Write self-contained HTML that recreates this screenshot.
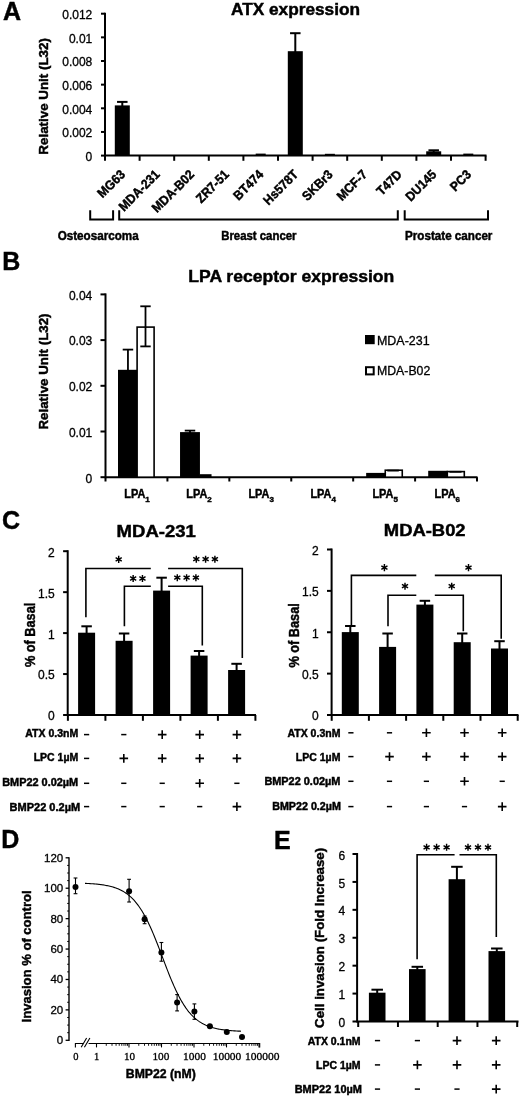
<!DOCTYPE html>
<html><head><meta charset="utf-8"><style>
html,body{margin:0;padding:0;background:#fff;}
svg{display:block;will-change:transform;}
text{font-family:"Liberation Sans",sans-serif;fill:#000;stroke:#000;stroke-width:0.3px;} text[font-weight=bold]{stroke-width:0.45px;}
</style></head><body>
<svg width="520" height="1097" viewBox="0 0 520 1097" stroke="#000" stroke-linecap="butt">
<rect x="0" y="0" width="520" height="1097" fill="#fff" stroke="none"/>
<g stroke="none">
</g>
<text x="2.90" y="19.50" font-size="25" font-weight="bold">A</text>
<text x="231.00" y="15.40" font-size="16.5" font-weight="bold" textLength="129.00" lengthAdjust="spacingAndGlyphs">ATX expression</text>
<text transform="translate(48.30,96.40) rotate(-90)" x="0" y="0" font-size="13" font-weight="bold" text-anchor="middle" textLength="116.50" lengthAdjust="spacingAndGlyphs">Relative Unit (L32)</text>
<line x1="105.00" y1="12.70" x2="105.00" y2="156.60" stroke-width="2"/>
<line x1="101.00" y1="13.70" x2="105.00" y2="13.70" stroke-width="2"/>
<text x="92.30" y="19.10" font-size="12" text-anchor="end">0.012</text>
<line x1="101.00" y1="37.35" x2="105.00" y2="37.35" stroke-width="2"/>
<text x="92.30" y="42.75" font-size="12" text-anchor="end">0.01</text>
<line x1="101.00" y1="61.00" x2="105.00" y2="61.00" stroke-width="2"/>
<text x="92.30" y="66.40" font-size="12" text-anchor="end">0.008</text>
<line x1="101.00" y1="84.65" x2="105.00" y2="84.65" stroke-width="2"/>
<text x="92.30" y="90.05" font-size="12" text-anchor="end">0.006</text>
<line x1="101.00" y1="108.30" x2="105.00" y2="108.30" stroke-width="2"/>
<text x="92.30" y="113.70" font-size="12" text-anchor="end">0.004</text>
<line x1="101.00" y1="131.95" x2="105.00" y2="131.95" stroke-width="2"/>
<text x="92.30" y="137.35" font-size="12" text-anchor="end">0.002</text>
<line x1="101.00" y1="155.60" x2="105.00" y2="155.60" stroke-width="2"/>
<text x="92.30" y="161.00" font-size="12" text-anchor="end">0</text>
<line x1="105.00" y1="155.60" x2="486.50" y2="155.60" stroke-width="2"/>
<line x1="105.00" y1="155.60" x2="105.00" y2="160.80" stroke-width="2"/>
<line x1="139.60" y1="155.60" x2="139.60" y2="160.80" stroke-width="2"/>
<line x1="174.20" y1="155.60" x2="174.20" y2="160.80" stroke-width="2"/>
<line x1="208.80" y1="155.60" x2="208.80" y2="160.80" stroke-width="2"/>
<line x1="243.40" y1="155.60" x2="243.40" y2="160.80" stroke-width="2"/>
<line x1="278.00" y1="155.60" x2="278.00" y2="160.80" stroke-width="2"/>
<line x1="312.60" y1="155.60" x2="312.60" y2="160.80" stroke-width="2"/>
<line x1="347.20" y1="155.60" x2="347.20" y2="160.80" stroke-width="2"/>
<line x1="381.80" y1="155.60" x2="381.80" y2="160.80" stroke-width="2"/>
<line x1="416.40" y1="155.60" x2="416.40" y2="160.80" stroke-width="2"/>
<line x1="451.00" y1="155.60" x2="451.00" y2="160.80" stroke-width="2"/>
<line x1="485.60" y1="155.60" x2="485.60" y2="160.80" stroke-width="2"/>
<text transform="translate(125.90,175.30) rotate(-45)" x="0" y="0" font-size="13" font-weight="bold" text-anchor="end" textLength="32.95" lengthAdjust="spacingAndGlyphs">MG63</text>
<text transform="translate(160.50,175.30) rotate(-45)" x="0" y="0" font-size="13" font-weight="bold" text-anchor="end" textLength="51.78" lengthAdjust="spacingAndGlyphs">MDA-231</text>
<text transform="translate(195.10,175.30) rotate(-45)" x="0" y="0" font-size="13" font-weight="bold" text-anchor="end" textLength="53.78" lengthAdjust="spacingAndGlyphs">MDA-B02</text>
<text transform="translate(229.70,175.30) rotate(-45)" x="0" y="0" font-size="13" font-weight="bold" text-anchor="end" textLength="40.35" lengthAdjust="spacingAndGlyphs">ZR7-51</text>
<text transform="translate(264.30,175.30) rotate(-45)" x="0" y="0" font-size="13" font-weight="bold" text-anchor="end" textLength="36.32" lengthAdjust="spacingAndGlyphs">BT474</text>
<text transform="translate(298.90,175.30) rotate(-45)" x="0" y="0" font-size="13" font-weight="bold" text-anchor="end" textLength="43.05" lengthAdjust="spacingAndGlyphs">Hs578T</text>
<text transform="translate(333.50,175.30) rotate(-45)" x="0" y="0" font-size="13" font-weight="bold" text-anchor="end" textLength="36.99" lengthAdjust="spacingAndGlyphs">SKBr3</text>
<text transform="translate(368.10,175.30) rotate(-45)" x="0" y="0" font-size="13" font-weight="bold" text-anchor="end" textLength="36.97" lengthAdjust="spacingAndGlyphs">MCF-7</text>
<text transform="translate(402.70,175.30) rotate(-45)" x="0" y="0" font-size="13" font-weight="bold" text-anchor="end" textLength="29.59" lengthAdjust="spacingAndGlyphs">T47D</text>
<text transform="translate(437.30,175.30) rotate(-45)" x="0" y="0" font-size="13" font-weight="bold" text-anchor="end" textLength="37.67" lengthAdjust="spacingAndGlyphs">DU145</text>
<text transform="translate(471.90,175.30) rotate(-45)" x="0" y="0" font-size="13" font-weight="bold" text-anchor="end" textLength="23.54" lengthAdjust="spacingAndGlyphs">PC3</text>
<rect x="114.80" y="105.40" width="15.00" height="50.20" fill="#000" stroke="none"/>
<line x1="122.30" y1="101.90" x2="122.30" y2="106.40" stroke-width="2"/>
<line x1="117.05" y1="101.90" x2="127.55" y2="101.90" stroke-width="2"/>
<rect x="255.70" y="153.60" width="10.00" height="2.00" fill="#000" stroke="none"/>
<rect x="287.80" y="51.20" width="15.00" height="104.40" fill="#000" stroke="none"/>
<line x1="295.30" y1="33.20" x2="295.30" y2="52.20" stroke-width="2"/>
<line x1="290.05" y1="33.20" x2="300.55" y2="33.20" stroke-width="2"/>
<rect x="324.90" y="153.80" width="10.00" height="1.80" fill="#000" stroke="none"/>
<rect x="426.20" y="151.30" width="15.00" height="4.30" fill="#000" stroke="none"/>
<line x1="433.70" y1="150.30" x2="433.70" y2="152.30" stroke-width="2"/>
<line x1="428.45" y1="150.30" x2="438.95" y2="150.30" stroke-width="2"/>
<rect x="463.30" y="153.60" width="10.00" height="2.00" fill="#000" stroke="none"/>
<path d="M90.2,210.2V219.4H113.1V210.2" stroke-width="2" fill="none"/>
<path d="M119.2,210.2V219.4H397.8V210.2" stroke-width="2" fill="none"/>
<path d="M404.7,210.2V219.4H488V210.2" stroke-width="2" fill="none"/>
<text x="57.70" y="240.30" font-size="12" font-weight="bold" textLength="81.00" lengthAdjust="spacingAndGlyphs">Osteosarcoma</text>
<text x="221.20" y="240.30" font-size="12" font-weight="bold" textLength="75.30" lengthAdjust="spacingAndGlyphs">Breast cancer</text>
<text x="405.00" y="239.60" font-size="12" font-weight="bold" textLength="87.40" lengthAdjust="spacingAndGlyphs">Prostate cancer</text>
<text x="2.30" y="270.10" font-size="25" font-weight="bold">B</text>
<text x="188.30" y="282.10" font-size="16.5" font-weight="bold" textLength="206.00" lengthAdjust="spacingAndGlyphs">LPA receptor expression</text>
<text transform="translate(48.30,371.50) rotate(-90)" x="0" y="0" font-size="13" font-weight="bold" text-anchor="middle" textLength="116.00" lengthAdjust="spacingAndGlyphs">Relative Unit (L32)</text>
<line x1="105.50" y1="293.40" x2="105.50" y2="478.20" stroke-width="2"/>
<line x1="100.50" y1="294.40" x2="105.50" y2="294.40" stroke-width="2"/>
<text x="92.30" y="299.70" font-size="12" text-anchor="end">0.04</text>
<line x1="100.50" y1="340.10" x2="105.50" y2="340.10" stroke-width="2"/>
<text x="92.30" y="345.40" font-size="12" text-anchor="end">0.03</text>
<line x1="100.50" y1="385.80" x2="105.50" y2="385.80" stroke-width="2"/>
<text x="92.30" y="391.10" font-size="12" text-anchor="end">0.02</text>
<line x1="100.50" y1="431.50" x2="105.50" y2="431.50" stroke-width="2"/>
<text x="92.30" y="436.80" font-size="12" text-anchor="end">0.01</text>
<line x1="100.50" y1="477.20" x2="105.50" y2="477.20" stroke-width="2"/>
<text x="92.30" y="482.50" font-size="12" text-anchor="end">0</text>
<line x1="105.50" y1="477.20" x2="477.50" y2="477.20" stroke-width="2"/>
<line x1="105.50" y1="477.20" x2="105.50" y2="481.50" stroke-width="2"/>
<line x1="167.42" y1="477.20" x2="167.42" y2="481.50" stroke-width="2"/>
<line x1="229.34" y1="477.20" x2="229.34" y2="481.50" stroke-width="2"/>
<line x1="291.26" y1="477.20" x2="291.26" y2="481.50" stroke-width="2"/>
<line x1="353.18" y1="477.20" x2="353.18" y2="481.50" stroke-width="2"/>
<line x1="415.10" y1="477.20" x2="415.10" y2="481.50" stroke-width="2"/>
<line x1="477.02" y1="477.20" x2="477.02" y2="481.50" stroke-width="2"/>
<rect x="118.00" y="369.80" width="19.90" height="107.40" fill="#000" stroke="none"/>
<rect x="137.10" y="327.10" width="17.00" height="150.10" fill="#fff" stroke="#000" stroke-width="1.6"/>
<line x1="127.95" y1="349.60" x2="127.95" y2="370.80" stroke-width="1.8"/>
<line x1="122.70" y1="349.60" x2="133.20" y2="349.60" stroke-width="1.8"/>
<line x1="145.50" y1="306.30" x2="145.50" y2="346.40" stroke-width="1.8"/>
<line x1="140.30" y1="306.30" x2="150.70" y2="306.30" stroke-width="1.8"/>
<line x1="140.30" y1="346.40" x2="150.70" y2="346.40" stroke-width="1.8"/>
<rect x="180.04" y="432.10" width="19.90" height="45.10" fill="#000" stroke="none"/>
<line x1="189.99" y1="430.60" x2="189.99" y2="433.10" stroke-width="1.8"/>
<line x1="184.74" y1="430.60" x2="195.24" y2="430.60" stroke-width="1.8"/>
<rect x="199.54" y="474.20" width="12.00" height="3.00" fill="#000" stroke="none"/>
<rect x="366.16" y="472.90" width="19.90" height="4.30" fill="#000" stroke="none"/>
<rect x="385.26" y="470.20" width="17.00" height="7.00" fill="#fff" stroke="#000" stroke-width="1.6"/>
<line x1="387.30" y1="470.60" x2="398.80" y2="470.60" stroke-width="1.8"/>
<rect x="428.20" y="470.80" width="19.90" height="6.40" fill="#000" stroke="none"/>
<rect x="447.30" y="471.60" width="17.00" height="5.60" fill="#fff" stroke="#000" stroke-width="1.6"/>
<line x1="449.50" y1="471.80" x2="461.50" y2="471.80" stroke-width="1.8"/>
<text x="124.30" y="498.30" font-size="12" font-weight="bold" textLength="21.00" lengthAdjust="spacingAndGlyphs">LPA</text>
<text x="145.30" y="501.80" font-size="8" font-weight="bold">1</text>
<text x="186.34" y="498.30" font-size="12" font-weight="bold" textLength="21.00" lengthAdjust="spacingAndGlyphs">LPA</text>
<text x="207.34" y="501.80" font-size="8" font-weight="bold">2</text>
<text x="248.38" y="498.30" font-size="12" font-weight="bold" textLength="21.00" lengthAdjust="spacingAndGlyphs">LPA</text>
<text x="269.38" y="501.80" font-size="8" font-weight="bold">3</text>
<text x="310.42" y="498.30" font-size="12" font-weight="bold" textLength="21.00" lengthAdjust="spacingAndGlyphs">LPA</text>
<text x="331.42" y="501.80" font-size="8" font-weight="bold">4</text>
<text x="372.46" y="498.30" font-size="12" font-weight="bold" textLength="21.00" lengthAdjust="spacingAndGlyphs">LPA</text>
<text x="393.46" y="501.80" font-size="8" font-weight="bold">5</text>
<text x="434.50" y="498.30" font-size="12" font-weight="bold" textLength="21.00" lengthAdjust="spacingAndGlyphs">LPA</text>
<text x="455.50" y="501.80" font-size="8" font-weight="bold">6</text>
<rect x="365.00" y="335.00" width="9.70" height="9.20" fill="#000" stroke="none"/>
<text x="377.00" y="344.90" font-size="12" textLength="52.60" lengthAdjust="spacingAndGlyphs">MDA-231</text>
<rect x="366.00" y="367.20" width="7.70" height="7.20" fill="#fff" stroke="#000" stroke-width="2"/>
<text x="377.00" y="374.90" font-size="12" textLength="53.30" lengthAdjust="spacingAndGlyphs">MDA-B02</text>
<text x="2.00" y="529.40" font-size="25" font-weight="bold">C</text>
<line x1="67.70" y1="550.20" x2="67.70" y2="716.00" stroke-width="2"/>
<line x1="63.10" y1="551.20" x2="67.70" y2="551.20" stroke-width="2"/>
<text x="54.80" y="556.60" font-size="12" text-anchor="end">2</text>
<line x1="63.10" y1="592.15" x2="67.70" y2="592.15" stroke-width="2"/>
<text x="54.80" y="597.55" font-size="12" text-anchor="end">1.5</text>
<line x1="63.10" y1="633.10" x2="67.70" y2="633.10" stroke-width="2"/>
<text x="54.80" y="638.50" font-size="12" text-anchor="end">1</text>
<line x1="63.10" y1="674.05" x2="67.70" y2="674.05" stroke-width="2"/>
<text x="54.80" y="679.45" font-size="12" text-anchor="end">0.5</text>
<line x1="63.10" y1="715.00" x2="67.70" y2="715.00" stroke-width="2"/>
<text x="54.80" y="720.40" font-size="12" text-anchor="end">0</text>
<line x1="67.70" y1="715.00" x2="256.00" y2="715.00" stroke-width="2"/>
<line x1="67.90" y1="715.00" x2="67.90" y2="720.80" stroke-width="2"/>
<line x1="105.40" y1="715.00" x2="105.40" y2="720.80" stroke-width="2"/>
<line x1="142.90" y1="715.00" x2="142.90" y2="720.80" stroke-width="2"/>
<line x1="180.40" y1="715.00" x2="180.40" y2="720.80" stroke-width="2"/>
<line x1="217.90" y1="715.00" x2="217.90" y2="720.80" stroke-width="2"/>
<line x1="255.40" y1="715.00" x2="255.40" y2="720.80" stroke-width="2"/>
<rect x="78.10" y="632.70" width="17.00" height="82.30" fill="#000" stroke="none"/>
<line x1="86.60" y1="626.30" x2="86.60" y2="633.70" stroke-width="2"/>
<line x1="81.35" y1="626.30" x2="91.85" y2="626.30" stroke-width="2"/>
<rect x="115.60" y="640.80" width="17.00" height="74.20" fill="#000" stroke="none"/>
<line x1="124.10" y1="633.50" x2="124.10" y2="641.80" stroke-width="2"/>
<line x1="118.85" y1="633.50" x2="129.35" y2="633.50" stroke-width="2"/>
<rect x="153.10" y="590.60" width="17.00" height="124.40" fill="#000" stroke="none"/>
<line x1="161.60" y1="577.70" x2="161.60" y2="591.60" stroke-width="2"/>
<line x1="156.35" y1="577.70" x2="166.85" y2="577.70" stroke-width="2"/>
<rect x="190.60" y="655.60" width="17.00" height="59.40" fill="#000" stroke="none"/>
<line x1="199.10" y1="651.00" x2="199.10" y2="656.60" stroke-width="2"/>
<line x1="193.85" y1="651.00" x2="204.35" y2="651.00" stroke-width="2"/>
<rect x="228.10" y="670.00" width="17.00" height="45.00" fill="#000" stroke="none"/>
<line x1="236.60" y1="663.80" x2="236.60" y2="671.00" stroke-width="2"/>
<line x1="231.35" y1="663.80" x2="241.85" y2="663.80" stroke-width="2"/>
<text x="116.60" y="537.40" font-size="17" font-weight="bold" textLength="79.20" lengthAdjust="spacingAndGlyphs">MDA-231</text>
<text transform="translate(35.10,634.90) rotate(-90)" x="0" y="0" font-size="14" font-weight="bold" text-anchor="middle" textLength="64.40" lengthAdjust="spacingAndGlyphs">% of Basal</text>
<line x1="331.60" y1="548.50" x2="331.60" y2="716.00" stroke-width="2"/>
<line x1="327.00" y1="549.50" x2="331.60" y2="549.50" stroke-width="2"/>
<text x="318.80" y="554.90" font-size="12" text-anchor="end">2</text>
<line x1="327.00" y1="590.88" x2="331.60" y2="590.88" stroke-width="2"/>
<text x="318.80" y="596.27" font-size="12" text-anchor="end">1.5</text>
<line x1="327.00" y1="632.25" x2="331.60" y2="632.25" stroke-width="2"/>
<text x="318.80" y="637.65" font-size="12" text-anchor="end">1</text>
<line x1="327.00" y1="673.62" x2="331.60" y2="673.62" stroke-width="2"/>
<text x="318.80" y="679.02" font-size="12" text-anchor="end">0.5</text>
<line x1="327.00" y1="715.00" x2="331.60" y2="715.00" stroke-width="2"/>
<text x="318.80" y="720.40" font-size="12" text-anchor="end">0</text>
<line x1="331.60" y1="715.00" x2="518.50" y2="715.00" stroke-width="2"/>
<line x1="331.70" y1="715.00" x2="331.70" y2="720.80" stroke-width="2"/>
<line x1="368.90" y1="715.00" x2="368.90" y2="720.80" stroke-width="2"/>
<line x1="406.10" y1="715.00" x2="406.10" y2="720.80" stroke-width="2"/>
<line x1="443.30" y1="715.00" x2="443.30" y2="720.80" stroke-width="2"/>
<line x1="480.50" y1="715.00" x2="480.50" y2="720.80" stroke-width="2"/>
<line x1="517.70" y1="715.00" x2="517.70" y2="720.80" stroke-width="2"/>
<rect x="341.80" y="632.10" width="17.00" height="82.90" fill="#000" stroke="none"/>
<line x1="350.30" y1="626.00" x2="350.30" y2="633.10" stroke-width="2"/>
<line x1="345.05" y1="626.00" x2="355.55" y2="626.00" stroke-width="2"/>
<rect x="379.10" y="646.90" width="17.00" height="68.10" fill="#000" stroke="none"/>
<line x1="387.60" y1="633.50" x2="387.60" y2="647.90" stroke-width="2"/>
<line x1="382.35" y1="633.50" x2="392.85" y2="633.50" stroke-width="2"/>
<rect x="416.40" y="604.60" width="17.00" height="110.40" fill="#000" stroke="none"/>
<line x1="424.90" y1="600.80" x2="424.90" y2="605.60" stroke-width="2"/>
<line x1="419.65" y1="600.80" x2="430.15" y2="600.80" stroke-width="2"/>
<rect x="453.70" y="642.20" width="17.00" height="72.80" fill="#000" stroke="none"/>
<line x1="462.20" y1="633.50" x2="462.20" y2="643.20" stroke-width="2"/>
<line x1="456.95" y1="633.50" x2="467.45" y2="633.50" stroke-width="2"/>
<rect x="491.00" y="648.50" width="17.00" height="66.50" fill="#000" stroke="none"/>
<line x1="499.50" y1="641.20" x2="499.50" y2="649.50" stroke-width="2"/>
<line x1="494.25" y1="641.20" x2="504.75" y2="641.20" stroke-width="2"/>
<text x="383.80" y="536.40" font-size="17" font-weight="bold" textLength="81.80" lengthAdjust="spacingAndGlyphs">MDA-B02</text>
<text transform="translate(298.90,635.40) rotate(-90)" x="0" y="0" font-size="14" font-weight="bold" text-anchor="middle" textLength="64.40" lengthAdjust="spacingAndGlyphs">% of Basal</text>
<path d="M85.9,617.3V568.5H150.8" stroke-width="1.6" fill="none"/>
<path d="M124.4,626.3V586.2H150.8" stroke-width="1.6" fill="none"/>
<path d="M168.1,568.5H242.3V658.1" stroke-width="1.6" fill="none"/>
<path d="M168.1,586.2H202.3V645.6" stroke-width="1.6" fill="none"/>
<path d="M118.70,555.85L118.70,562.95M115.63,557.62L121.77,561.17M121.77,557.62L115.63,561.17" stroke-width="1.45" fill="none"/>
<path d="M133.15,574.95L133.15,582.05M130.08,576.73L136.22,580.27M136.22,576.73L130.08,580.27" stroke-width="1.45" fill="none"/>
<path d="M142.45,574.95L142.45,582.05M139.38,576.73L145.52,580.27M145.52,576.73L139.38,580.27" stroke-width="1.45" fill="none"/>
<path d="M196.30,555.65L196.30,562.75M193.23,557.43L199.37,560.98M199.37,557.43L193.23,560.98" stroke-width="1.45" fill="none"/>
<path d="M205.60,555.65L205.60,562.75M202.53,557.43L208.67,560.98M208.67,557.43L202.53,560.98" stroke-width="1.45" fill="none"/>
<path d="M214.90,555.65L214.90,562.75M211.83,557.43L217.97,560.98M217.97,557.43L211.83,560.98" stroke-width="1.45" fill="none"/>
<path d="M177.30,574.15L177.30,581.25M174.23,575.93L180.37,579.48M180.37,575.93L174.23,579.48" stroke-width="1.45" fill="none"/>
<path d="M186.60,574.15L186.60,581.25M183.53,575.93L189.67,579.48M189.67,575.93L183.53,579.48" stroke-width="1.45" fill="none"/>
<path d="M195.90,574.15L195.90,581.25M192.83,575.93L198.97,579.48M198.97,575.93L192.83,579.48" stroke-width="1.45" fill="none"/>
<path d="M351.4,625.4V575.4H416.3" stroke-width="1.6" fill="none"/>
<path d="M388,626.3V595.3H416.3" stroke-width="1.6" fill="none"/>
<path d="M434.8,575.4H501.2V638.8" stroke-width="1.6" fill="none"/>
<path d="M434.8,595.3H463.3V631.2" stroke-width="1.6" fill="none"/>
<path d="M384.40,564.05L384.40,571.15M381.33,565.83L387.47,569.38M387.47,565.83L381.33,569.38" stroke-width="1.45" fill="none"/>
<path d="M405.00,582.65L405.00,589.75M401.93,584.43L408.07,587.98M408.07,584.43L401.93,587.98" stroke-width="1.45" fill="none"/>
<path d="M468.50,564.05L468.50,571.15M465.43,565.83L471.57,569.38M471.57,565.83L465.43,569.38" stroke-width="1.45" fill="none"/>
<path d="M451.70,582.65L451.70,589.75M448.63,584.43L454.77,587.98M454.77,584.43L448.63,587.98" stroke-width="1.45" fill="none"/>
<text x="78.20" y="736.70" font-size="10.5" font-weight="bold" text-anchor="end">ATX 0.3nM</text>
<path d="M84.00,734.60H89.20" stroke-width="1.5" fill="none"/>
<path d="M121.20,734.60H126.40" stroke-width="1.5" fill="none"/>
<path d="M157.90,734.60H166.50M162.20,730.30V738.90" stroke-width="1.6" fill="none"/>
<path d="M195.40,734.60H204.00M199.70,730.30V738.90" stroke-width="1.6" fill="none"/>
<path d="M232.60,734.60H241.20M236.90,730.30V738.90" stroke-width="1.6" fill="none"/>
<text x="78.20" y="761.20" font-size="10.5" font-weight="bold" text-anchor="end">LPC 1µM</text>
<path d="M84.00,758.40H89.20" stroke-width="1.5" fill="none"/>
<path d="M119.50,758.40H128.10M123.80,754.10V762.70" stroke-width="1.6" fill="none"/>
<path d="M157.90,758.40H166.50M162.20,754.10V762.70" stroke-width="1.6" fill="none"/>
<path d="M195.40,758.40H204.00M199.70,754.10V762.70" stroke-width="1.6" fill="none"/>
<path d="M232.60,758.40H241.20M236.90,754.10V762.70" stroke-width="1.6" fill="none"/>
<text x="78.20" y="785.70" font-size="10.5" font-weight="bold" text-anchor="end" textLength="76.00" lengthAdjust="spacingAndGlyphs">BMP22 0.02µM</text>
<path d="M84.00,783.30H89.20" stroke-width="1.5" fill="none"/>
<path d="M121.20,783.30H126.40" stroke-width="1.5" fill="none"/>
<path d="M159.60,783.30H164.80" stroke-width="1.5" fill="none"/>
<path d="M195.40,783.30H204.00M199.70,779.00V787.60" stroke-width="1.6" fill="none"/>
<path d="M234.30,783.30H239.50" stroke-width="1.5" fill="none"/>
<text x="80.20" y="811.20" font-size="10.5" font-weight="bold" text-anchor="end" textLength="70.60" lengthAdjust="spacingAndGlyphs">BMP22 0.2µM</text>
<path d="M84.00,806.60H89.20" stroke-width="1.5" fill="none"/>
<path d="M121.20,806.60H126.40" stroke-width="1.5" fill="none"/>
<path d="M159.60,806.60H164.80" stroke-width="1.5" fill="none"/>
<path d="M197.10,806.60H202.30" stroke-width="1.5" fill="none"/>
<path d="M232.60,806.60H241.20M236.90,802.30V810.90" stroke-width="1.6" fill="none"/>
<text x="340.40" y="736.70" font-size="10.5" font-weight="bold" text-anchor="end">ATX 0.3nM</text>
<path d="M348.30,732.80H353.50" stroke-width="1.5" fill="none"/>
<path d="M386.90,732.80H392.10" stroke-width="1.5" fill="none"/>
<path d="M422.10,732.80H430.70M426.40,728.50V737.10" stroke-width="1.6" fill="none"/>
<path d="M460.20,732.80H468.80M464.50,728.50V737.10" stroke-width="1.6" fill="none"/>
<path d="M497.90,732.80H506.50M502.20,728.50V737.10" stroke-width="1.6" fill="none"/>
<text x="340.40" y="760.60" font-size="10.5" font-weight="bold" text-anchor="end">LPC 1µM</text>
<path d="M348.30,756.60H353.50" stroke-width="1.5" fill="none"/>
<path d="M385.20,756.60H393.80M389.50,752.30V760.90" stroke-width="1.6" fill="none"/>
<path d="M422.10,756.60H430.70M426.40,752.30V760.90" stroke-width="1.6" fill="none"/>
<path d="M460.20,756.60H468.80M464.50,752.30V760.90" stroke-width="1.6" fill="none"/>
<path d="M497.90,756.60H506.50M502.20,752.30V760.90" stroke-width="1.6" fill="none"/>
<text x="340.40" y="785.40" font-size="10.5" font-weight="bold" text-anchor="end" textLength="76.00" lengthAdjust="spacingAndGlyphs">BMP22 0.02µM</text>
<path d="M348.30,781.30H353.50" stroke-width="1.5" fill="none"/>
<path d="M386.90,781.30H392.10" stroke-width="1.5" fill="none"/>
<path d="M423.80,781.30H429.00" stroke-width="1.5" fill="none"/>
<path d="M460.20,781.30H468.80M464.50,777.00V785.60" stroke-width="1.6" fill="none"/>
<path d="M499.60,781.30H504.80" stroke-width="1.5" fill="none"/>
<text x="340.90" y="810.40" font-size="10.5" font-weight="bold" text-anchor="end" textLength="68.70" lengthAdjust="spacingAndGlyphs">BMP22 0.2µM</text>
<path d="M348.30,806.60H353.50" stroke-width="1.5" fill="none"/>
<path d="M386.90,806.60H392.10" stroke-width="1.5" fill="none"/>
<path d="M423.80,806.60H429.00" stroke-width="1.5" fill="none"/>
<path d="M461.90,806.60H467.10" stroke-width="1.5" fill="none"/>
<path d="M497.90,806.60H506.50M502.20,802.30V810.90" stroke-width="1.6" fill="none"/>
<text x="1.20" y="848.20" font-size="25" font-weight="bold">D</text>
<text transform="translate(30.80,956.40) rotate(-90)" x="0" y="0" font-size="13.5" font-weight="bold" text-anchor="middle" textLength="132.00" lengthAdjust="spacingAndGlyphs">Invasion % of control</text>
<line x1="69.00" y1="857.20" x2="69.00" y2="1040.90" stroke-width="1.4"/>
<line x1="65.60" y1="1040.30" x2="69.00" y2="1040.30" stroke-width="1.3"/>
<text x="63.20" y="1044.30" font-size="11.5" text-anchor="end">0</text>
<line x1="67.20" y1="1032.70" x2="69.00" y2="1032.70" stroke-width="1.0"/>
<line x1="67.20" y1="1025.09" x2="69.00" y2="1025.09" stroke-width="1.0"/>
<line x1="67.20" y1="1017.49" x2="69.00" y2="1017.49" stroke-width="1.0"/>
<line x1="65.60" y1="1009.88" x2="69.00" y2="1009.88" stroke-width="1.3"/>
<text x="63.20" y="1013.88" font-size="11.5" text-anchor="end">20</text>
<line x1="67.20" y1="1002.28" x2="69.00" y2="1002.28" stroke-width="1.0"/>
<line x1="67.20" y1="994.67" x2="69.00" y2="994.67" stroke-width="1.0"/>
<line x1="67.20" y1="987.07" x2="69.00" y2="987.07" stroke-width="1.0"/>
<line x1="65.60" y1="979.47" x2="69.00" y2="979.47" stroke-width="1.3"/>
<text x="63.20" y="983.47" font-size="11.5" text-anchor="end">40</text>
<line x1="67.20" y1="971.86" x2="69.00" y2="971.86" stroke-width="1.0"/>
<line x1="67.20" y1="964.26" x2="69.00" y2="964.26" stroke-width="1.0"/>
<line x1="67.20" y1="956.65" x2="69.00" y2="956.65" stroke-width="1.0"/>
<line x1="65.60" y1="949.05" x2="69.00" y2="949.05" stroke-width="1.3"/>
<text x="63.20" y="953.05" font-size="11.5" text-anchor="end">60</text>
<line x1="67.20" y1="941.45" x2="69.00" y2="941.45" stroke-width="1.0"/>
<line x1="67.20" y1="933.84" x2="69.00" y2="933.84" stroke-width="1.0"/>
<line x1="67.20" y1="926.24" x2="69.00" y2="926.24" stroke-width="1.0"/>
<line x1="65.60" y1="918.63" x2="69.00" y2="918.63" stroke-width="1.3"/>
<text x="63.20" y="922.63" font-size="11.5" text-anchor="end">80</text>
<line x1="67.20" y1="911.03" x2="69.00" y2="911.03" stroke-width="1.0"/>
<line x1="67.20" y1="903.42" x2="69.00" y2="903.42" stroke-width="1.0"/>
<line x1="67.20" y1="895.82" x2="69.00" y2="895.82" stroke-width="1.0"/>
<line x1="65.60" y1="888.22" x2="69.00" y2="888.22" stroke-width="1.3"/>
<text x="63.20" y="892.22" font-size="11.5" text-anchor="end">100</text>
<line x1="67.20" y1="880.61" x2="69.00" y2="880.61" stroke-width="1.0"/>
<line x1="67.20" y1="873.01" x2="69.00" y2="873.01" stroke-width="1.0"/>
<line x1="67.20" y1="865.40" x2="69.00" y2="865.40" stroke-width="1.0"/>
<line x1="65.60" y1="857.80" x2="69.00" y2="857.80" stroke-width="1.3"/>
<text x="63.20" y="861.80" font-size="11.5" text-anchor="end">120</text>
<path d="M75.4,1047.4V1043.5H83.6" stroke-width="1.1" fill="none"/>
<path d="M88.6,1043.5H259.7V1047.4" stroke-width="1.1" fill="none"/>
<path d="M81.2,1047.3L86.6,1038.0M84.4,1047.3L89.9,1038.0" stroke-width="1.1" fill="none"/>
<line x1="96.50" y1="1043.50" x2="96.50" y2="1047.40" stroke-width="1.1"/>
<line x1="106.28" y1="1043.50" x2="106.28" y2="1045.80" stroke-width="0.9"/>
<line x1="112.01" y1="1043.50" x2="112.01" y2="1045.80" stroke-width="0.9"/>
<line x1="116.07" y1="1043.50" x2="116.07" y2="1045.80" stroke-width="0.9"/>
<line x1="119.22" y1="1043.50" x2="119.22" y2="1045.80" stroke-width="0.9"/>
<line x1="121.79" y1="1043.50" x2="121.79" y2="1045.80" stroke-width="0.9"/>
<line x1="123.97" y1="1043.50" x2="123.97" y2="1045.80" stroke-width="0.9"/>
<line x1="125.85" y1="1043.50" x2="125.85" y2="1045.80" stroke-width="0.9"/>
<line x1="127.51" y1="1043.50" x2="127.51" y2="1045.80" stroke-width="0.9"/>
<line x1="129.00" y1="1043.50" x2="129.00" y2="1047.40" stroke-width="1.1"/>
<line x1="138.78" y1="1043.50" x2="138.78" y2="1045.80" stroke-width="0.9"/>
<line x1="144.51" y1="1043.50" x2="144.51" y2="1045.80" stroke-width="0.9"/>
<line x1="148.57" y1="1043.50" x2="148.57" y2="1045.80" stroke-width="0.9"/>
<line x1="151.72" y1="1043.50" x2="151.72" y2="1045.80" stroke-width="0.9"/>
<line x1="154.29" y1="1043.50" x2="154.29" y2="1045.80" stroke-width="0.9"/>
<line x1="156.47" y1="1043.50" x2="156.47" y2="1045.80" stroke-width="0.9"/>
<line x1="158.35" y1="1043.50" x2="158.35" y2="1045.80" stroke-width="0.9"/>
<line x1="160.01" y1="1043.50" x2="160.01" y2="1045.80" stroke-width="0.9"/>
<line x1="161.50" y1="1043.50" x2="161.50" y2="1047.40" stroke-width="1.1"/>
<line x1="171.28" y1="1043.50" x2="171.28" y2="1045.80" stroke-width="0.9"/>
<line x1="177.01" y1="1043.50" x2="177.01" y2="1045.80" stroke-width="0.9"/>
<line x1="181.07" y1="1043.50" x2="181.07" y2="1045.80" stroke-width="0.9"/>
<line x1="184.22" y1="1043.50" x2="184.22" y2="1045.80" stroke-width="0.9"/>
<line x1="186.79" y1="1043.50" x2="186.79" y2="1045.80" stroke-width="0.9"/>
<line x1="188.97" y1="1043.50" x2="188.97" y2="1045.80" stroke-width="0.9"/>
<line x1="190.85" y1="1043.50" x2="190.85" y2="1045.80" stroke-width="0.9"/>
<line x1="192.51" y1="1043.50" x2="192.51" y2="1045.80" stroke-width="0.9"/>
<line x1="194.00" y1="1043.50" x2="194.00" y2="1047.40" stroke-width="1.1"/>
<line x1="203.78" y1="1043.50" x2="203.78" y2="1045.80" stroke-width="0.9"/>
<line x1="209.51" y1="1043.50" x2="209.51" y2="1045.80" stroke-width="0.9"/>
<line x1="213.57" y1="1043.50" x2="213.57" y2="1045.80" stroke-width="0.9"/>
<line x1="216.72" y1="1043.50" x2="216.72" y2="1045.80" stroke-width="0.9"/>
<line x1="219.29" y1="1043.50" x2="219.29" y2="1045.80" stroke-width="0.9"/>
<line x1="221.47" y1="1043.50" x2="221.47" y2="1045.80" stroke-width="0.9"/>
<line x1="223.35" y1="1043.50" x2="223.35" y2="1045.80" stroke-width="0.9"/>
<line x1="225.01" y1="1043.50" x2="225.01" y2="1045.80" stroke-width="0.9"/>
<line x1="226.50" y1="1043.50" x2="226.50" y2="1047.40" stroke-width="1.1"/>
<line x1="236.28" y1="1043.50" x2="236.28" y2="1045.80" stroke-width="0.9"/>
<line x1="242.01" y1="1043.50" x2="242.01" y2="1045.80" stroke-width="0.9"/>
<line x1="246.07" y1="1043.50" x2="246.07" y2="1045.80" stroke-width="0.9"/>
<line x1="249.22" y1="1043.50" x2="249.22" y2="1045.80" stroke-width="0.9"/>
<line x1="251.79" y1="1043.50" x2="251.79" y2="1045.80" stroke-width="0.9"/>
<line x1="253.97" y1="1043.50" x2="253.97" y2="1045.80" stroke-width="0.9"/>
<line x1="255.85" y1="1043.50" x2="255.85" y2="1045.80" stroke-width="0.9"/>
<line x1="257.51" y1="1043.50" x2="257.51" y2="1045.80" stroke-width="0.9"/>
<line x1="259.00" y1="1043.50" x2="259.00" y2="1047.40" stroke-width="1.1"/>
<text x="75.80" y="1059.60" font-size="11" style="font-family:&quot;Liberation Serif&quot;,serif" text-anchor="middle" textLength="5.25" lengthAdjust="spacingAndGlyphs">0</text>
<text x="96.60" y="1059.60" font-size="11" style="font-family:&quot;Liberation Serif&quot;,serif" text-anchor="middle" textLength="5.25" lengthAdjust="spacingAndGlyphs">1</text>
<text x="129.60" y="1059.60" font-size="11" style="font-family:&quot;Liberation Serif&quot;,serif" text-anchor="middle" textLength="11.10" lengthAdjust="spacingAndGlyphs">10</text>
<text x="160.90" y="1059.60" font-size="11" style="font-family:&quot;Liberation Serif&quot;,serif" text-anchor="middle" textLength="16.95" lengthAdjust="spacingAndGlyphs">100</text>
<text x="194.50" y="1059.60" font-size="11" style="font-family:&quot;Liberation Serif&quot;,serif" text-anchor="middle" textLength="22.80" lengthAdjust="spacingAndGlyphs">1000</text>
<text x="227.00" y="1059.60" font-size="11" style="font-family:&quot;Liberation Serif&quot;,serif" text-anchor="middle" textLength="28.65" lengthAdjust="spacingAndGlyphs">10000</text>
<text x="262.30" y="1059.60" font-size="11" style="font-family:&quot;Liberation Serif&quot;,serif" text-anchor="middle" textLength="34.50" lengthAdjust="spacingAndGlyphs">100000</text>
<text x="125.80" y="1078.30" font-size="12.5" font-weight="bold" textLength="70.00" lengthAdjust="spacingAndGlyphs">BMP22 (nM)</text>
<path d="M85.00,883.35 L86.00,883.40 L87.00,883.45 L88.00,883.50 L89.00,883.55 L90.00,883.61 L91.00,883.68 L92.00,883.75 L93.00,883.82 L94.00,883.90 L95.00,883.98 L96.00,884.07 L97.00,884.17 L98.00,884.27 L99.00,884.38 L100.00,884.50 L101.00,884.63 L102.00,884.77 L103.00,884.91 L104.00,885.07 L105.00,885.24 L106.00,885.42 L107.00,885.61 L108.00,885.82 L109.00,886.04 L110.00,886.28 L111.00,886.53 L112.00,886.80 L113.00,887.09 L114.00,887.40 L115.00,887.73 L116.00,888.08 L117.00,888.46 L118.00,888.86 L119.00,889.29 L120.00,889.75 L121.00,890.24 L122.00,890.76 L123.00,891.31 L124.00,891.90 L125.00,892.53 L126.00,893.20 L127.00,893.91 L128.00,894.66 L129.00,895.46 L130.00,896.31 L131.00,897.21 L132.00,898.16 L133.00,899.17 L134.00,900.24 L135.00,901.36 L136.00,902.55 L137.00,903.80 L138.00,905.11 L139.00,906.49 L140.00,907.94 L141.00,909.46 L142.00,911.05 L143.00,912.71 L144.00,914.44 L145.00,916.24 L146.00,918.12 L147.00,920.06 L148.00,922.08 L149.00,924.17 L150.00,926.32 L151.00,928.54 L152.00,930.81 L153.00,933.15 L154.00,935.54 L155.00,937.98 L156.00,940.46 L157.00,942.99 L158.00,945.55 L159.00,948.14 L160.00,950.75 L161.00,953.37 L162.00,956.01 L163.00,958.65 L164.00,961.28 L165.00,963.91 L166.00,966.52 L167.00,969.11 L168.00,971.66 L169.00,974.19 L170.00,976.67 L171.00,979.11 L172.00,981.49 L173.00,983.83 L174.00,986.10 L175.00,988.32 L176.00,990.46 L177.00,992.55 L178.00,994.56 L179.00,996.50 L180.00,998.38 L181.00,1000.18 L182.00,1001.90 L183.00,1003.56 L184.00,1005.15 L185.00,1006.66 L186.00,1008.11 L187.00,1009.48 L188.00,1010.79 L189.00,1012.04 L190.00,1013.22 L191.00,1014.34 L192.00,1015.40 L193.00,1016.41 L194.00,1017.36 L195.00,1018.26 L196.00,1019.10 L197.00,1019.90 L198.00,1020.65 L199.00,1021.36 L200.00,1022.03 L201.00,1022.65 L202.00,1023.24 L203.00,1023.79 L204.00,1024.31 L205.00,1024.80 L206.00,1025.26 L207.00,1025.69 L208.00,1026.09 L209.00,1026.46 L210.00,1026.81 L211.00,1027.14 L212.00,1027.45 L213.00,1027.74 L214.00,1028.01 L215.00,1028.26 L216.00,1028.50 L217.00,1028.72 L218.00,1028.92 L219.00,1029.12 L220.00,1029.29 L221.00,1029.46 L222.00,1029.62 L223.00,1029.76 L224.00,1029.90 L225.00,1030.03 L226.00,1030.15 L227.00,1030.26 L228.00,1030.36 L229.00,1030.46 L230.00,1030.55 L231.00,1030.63 L232.00,1030.71 L233.00,1030.78 L234.00,1030.85 L235.00,1030.91 L236.00,1030.97 L237.00,1031.03 L238.00,1031.08 L239.00,1031.13 L240.00,1031.17 L241.00,1031.21" stroke-width="1.1" fill="none"/>
<line x1="75.50" y1="878.00" x2="75.50" y2="893.70" stroke-width="1.1"/>
<line x1="73.60" y1="878.00" x2="77.40" y2="878.00" stroke-width="1.1"/>
<line x1="73.60" y1="893.70" x2="77.40" y2="893.70" stroke-width="1.1"/>
<circle cx="75.5" cy="887.0" r="3.0" fill="#000" stroke="none"/>
<line x1="129.10" y1="879.30" x2="129.10" y2="902.00" stroke-width="1.1"/>
<line x1="127.20" y1="879.30" x2="131.00" y2="879.30" stroke-width="1.1"/>
<line x1="127.20" y1="902.00" x2="131.00" y2="902.00" stroke-width="1.1"/>
<circle cx="129.1" cy="891.3" r="3.0" fill="#000" stroke="none"/>
<line x1="144.60" y1="916.00" x2="144.60" y2="923.70" stroke-width="1.1"/>
<line x1="142.70" y1="916.00" x2="146.50" y2="916.00" stroke-width="1.1"/>
<line x1="142.70" y1="923.70" x2="146.50" y2="923.70" stroke-width="1.1"/>
<circle cx="144.6" cy="919.3" r="3.0" fill="#000" stroke="none"/>
<line x1="161.40" y1="942.50" x2="161.40" y2="961.20" stroke-width="1.1"/>
<line x1="159.50" y1="942.50" x2="163.30" y2="942.50" stroke-width="1.1"/>
<line x1="159.50" y1="961.20" x2="163.30" y2="961.20" stroke-width="1.1"/>
<circle cx="161.4" cy="952.4" r="3.0" fill="#000" stroke="none"/>
<line x1="177.10" y1="994.60" x2="177.10" y2="1010.90" stroke-width="1.1"/>
<line x1="175.20" y1="994.60" x2="179.00" y2="994.60" stroke-width="1.1"/>
<line x1="175.20" y1="1010.90" x2="179.00" y2="1010.90" stroke-width="1.1"/>
<circle cx="177.1" cy="1002.4" r="3.0" fill="#000" stroke="none"/>
<line x1="194.40" y1="1003.90" x2="194.40" y2="1019.30" stroke-width="1.1"/>
<line x1="192.50" y1="1003.90" x2="196.30" y2="1003.90" stroke-width="1.1"/>
<line x1="192.50" y1="1019.30" x2="196.30" y2="1019.30" stroke-width="1.1"/>
<circle cx="194.4" cy="1011.5" r="3.0" fill="#000" stroke="none"/>
<circle cx="209.9" cy="1026.3" r="3.0" fill="#000" stroke="none"/>
<circle cx="226.8" cy="1032.0" r="3.0" fill="#000" stroke="none"/>
<circle cx="242.0" cy="1036.9" r="3.0" fill="#000" stroke="none"/>
<text x="274.00" y="848.50" font-size="25" font-weight="bold">E</text>
<text transform="translate(323.80,937.90) rotate(-90)" x="0" y="0" font-size="13.5" font-weight="bold" text-anchor="middle" textLength="180.00" lengthAdjust="spacingAndGlyphs">Cell invasion (Fold Increase)</text>
<line x1="357.10" y1="853.00" x2="357.10" y2="1022.50" stroke-width="2"/>
<line x1="352.50" y1="854.00" x2="357.10" y2="854.00" stroke-width="2"/>
<text x="345.20" y="859.60" font-size="12" text-anchor="end">6</text>
<line x1="352.50" y1="881.92" x2="357.10" y2="881.92" stroke-width="2"/>
<text x="345.20" y="887.52" font-size="12" text-anchor="end">5</text>
<line x1="352.50" y1="909.83" x2="357.10" y2="909.83" stroke-width="2"/>
<text x="345.20" y="915.43" font-size="12" text-anchor="end">4</text>
<line x1="352.50" y1="937.75" x2="357.10" y2="937.75" stroke-width="2"/>
<text x="345.20" y="943.35" font-size="12" text-anchor="end">3</text>
<line x1="352.50" y1="965.67" x2="357.10" y2="965.67" stroke-width="2"/>
<text x="345.20" y="971.27" font-size="12" text-anchor="end">2</text>
<line x1="352.50" y1="993.58" x2="357.10" y2="993.58" stroke-width="2"/>
<text x="345.20" y="999.18" font-size="12" text-anchor="end">1</text>
<line x1="352.50" y1="1021.50" x2="357.10" y2="1021.50" stroke-width="2"/>
<text x="345.20" y="1027.10" font-size="12" text-anchor="end">0</text>
<line x1="357.10" y1="1021.50" x2="518.50" y2="1021.50" stroke-width="2"/>
<line x1="358.20" y1="1021.50" x2="358.20" y2="1027.00" stroke-width="2"/>
<line x1="397.95" y1="1021.50" x2="397.95" y2="1027.00" stroke-width="2"/>
<line x1="437.70" y1="1021.50" x2="437.70" y2="1027.00" stroke-width="2"/>
<line x1="477.45" y1="1021.50" x2="477.45" y2="1027.00" stroke-width="2"/>
<line x1="517.20" y1="1021.50" x2="517.20" y2="1027.00" stroke-width="2"/>
<rect x="368.90" y="992.70" width="16.60" height="28.80" fill="#000" stroke="none"/>
<line x1="377.20" y1="989.70" x2="377.20" y2="993.70" stroke-width="2"/>
<line x1="371.45" y1="989.70" x2="382.95" y2="989.70" stroke-width="2"/>
<rect x="409.00" y="969.10" width="16.60" height="52.40" fill="#000" stroke="none"/>
<line x1="417.30" y1="966.80" x2="417.30" y2="970.10" stroke-width="2"/>
<line x1="411.55" y1="966.80" x2="423.05" y2="966.80" stroke-width="2"/>
<rect x="448.60" y="879.20" width="16.60" height="142.30" fill="#000" stroke="none"/>
<line x1="456.90" y1="866.80" x2="456.90" y2="880.20" stroke-width="2"/>
<line x1="451.15" y1="866.80" x2="462.65" y2="866.80" stroke-width="2"/>
<rect x="488.50" y="951.10" width="16.60" height="70.40" fill="#000" stroke="none"/>
<line x1="496.80" y1="948.50" x2="496.80" y2="952.10" stroke-width="2"/>
<line x1="491.05" y1="948.50" x2="502.55" y2="948.50" stroke-width="2"/>
<path d="M417.1,959.3V854.8H454.6" stroke-width="1.6" fill="none"/>
<path d="M459.5,854.8H496.3V937.1" stroke-width="1.6" fill="none"/>
<path d="M426.60,843.75L426.60,850.85M423.53,845.52L429.67,849.07M429.67,845.52L423.53,849.07" stroke-width="1.45" fill="none"/>
<path d="M436.60,843.75L436.60,850.85M433.53,845.52L439.67,849.07M439.67,845.52L433.53,849.07" stroke-width="1.45" fill="none"/>
<path d="M446.60,843.75L446.60,850.85M443.53,845.52L449.67,849.07M449.67,845.52L443.53,849.07" stroke-width="1.45" fill="none"/>
<path d="M468.00,843.75L468.00,850.85M464.93,845.52L471.07,849.07M471.07,845.52L464.93,849.07" stroke-width="1.45" fill="none"/>
<path d="M478.00,843.75L478.00,850.85M474.93,845.52L481.07,849.07M481.07,845.52L474.93,849.07" stroke-width="1.45" fill="none"/>
<path d="M488.00,843.75L488.00,850.85M484.93,845.52L491.07,849.07M491.07,845.52L484.93,849.07" stroke-width="1.45" fill="none"/>
<text x="360.60" y="1044.80" font-size="10.5" font-weight="bold" text-anchor="end">ATX 0.1nM</text>
<path d="M374.90,1040.60H380.10" stroke-width="1.5" fill="none"/>
<path d="M414.80,1040.60H420.00" stroke-width="1.5" fill="none"/>
<path d="M452.70,1040.60H461.30M457.00,1036.30V1044.90" stroke-width="1.6" fill="none"/>
<path d="M491.90,1040.60H500.50M496.20,1036.30V1044.90" stroke-width="1.6" fill="none"/>
<text x="360.60" y="1068.70" font-size="10.5" font-weight="bold" text-anchor="end">LPC 1µM</text>
<path d="M374.90,1064.90H380.10" stroke-width="1.5" fill="none"/>
<path d="M413.10,1064.90H421.70M417.40,1060.60V1069.20" stroke-width="1.6" fill="none"/>
<path d="M452.70,1064.90H461.30M457.00,1060.60V1069.20" stroke-width="1.6" fill="none"/>
<path d="M491.90,1064.90H500.50M496.20,1060.60V1069.20" stroke-width="1.6" fill="none"/>
<text x="362.00" y="1092.90" font-size="10.5" font-weight="bold" text-anchor="end" textLength="67.30" lengthAdjust="spacingAndGlyphs">BMP22 10µM</text>
<path d="M374.90,1089.10H380.10" stroke-width="1.5" fill="none"/>
<path d="M414.80,1089.10H420.00" stroke-width="1.5" fill="none"/>
<path d="M454.40,1089.10H459.60" stroke-width="1.5" fill="none"/>
<path d="M491.90,1089.10H500.50M496.20,1084.80V1093.40" stroke-width="1.6" fill="none"/>
</svg>
</body></html>
